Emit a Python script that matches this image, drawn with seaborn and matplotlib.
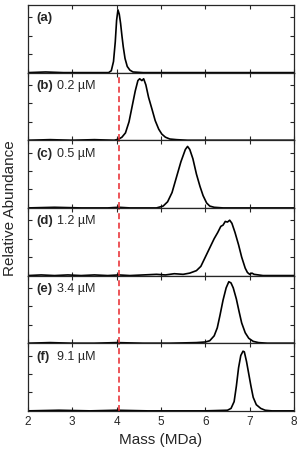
import pandas as pd
import matplotlib
matplotlib.use('Agg')
import matplotlib.pyplot as plt
import seaborn as sns

# values (mass in MDa, relative abundance)
mass_a = [2.0, 2.4, 2.8, 3.2, 3.6, 3.82, 3.88, 3.93, 3.97, 4.00, 4.03, 4.06, 4.09, 4.12, 4.15, 4.19, 4.24, 4.30, 4.37, 4.6, 5.0, 6.0, 7.0, 8.0]
abun_a = [0.0, 0.01, 0.0, 0.0, 0.0, 0.0, 0.03, 0.18, 0.5, 0.85, 1.02, 0.95, 0.8, 0.6, 0.42, 0.23, 0.1, 0.04, 0.01, 0.0, 0.0, 0.0, 0.0, 0.0]

mass_b = [2.0, 2.5, 3.0, 3.5, 3.95, 4.05, 4.12, 4.2, 4.28, 4.35, 4.42, 4.48, 4.52, 4.57, 4.61, 4.66, 4.72, 4.8, 4.87, 4.95, 5.02, 5.1, 5.2, 5.35, 5.6, 6.5, 8.0]
abun_b = [0.0, 0.01, 0.0, 0.01, 0.0, 0.02, 0.05, 0.12, 0.3, 0.55, 0.8, 0.97, 1.0, 0.97, 1.0, 0.9, 0.7, 0.5, 0.32, 0.18, 0.1, 0.05, 0.02, 0.01, 0.0, 0.0, 0.0]

mass_c = [2.0, 2.6, 3.2, 3.8, 4.05, 4.3, 4.9, 5.05, 5.15, 5.25, 5.35, 5.45, 5.55, 5.6, 5.65, 5.72, 5.8, 5.88, 5.95, 6.03, 6.1, 6.2, 6.4, 7.0, 8.0]
abun_c = [0.0, 0.01, 0.0, 0.0, 0.01, 0.0, 0.0, 0.03, 0.1, 0.25, 0.5, 0.75, 0.95, 1.0, 0.95, 0.8, 0.55, 0.35, 0.2, 0.08, 0.03, 0.01, 0.0, 0.0, 0.0]

mass_d = [2.0, 2.3, 2.6, 2.9, 3.2, 3.5, 3.8, 4.05, 4.3, 4.6, 4.9, 5.1, 5.3, 5.5, 5.65, 5.8, 5.9, 6.0, 6.1, 6.2, 6.28, 6.35, 6.4, 6.45, 6.5, 6.55, 6.6, 6.67, 6.75, 6.82, 6.9, 6.95, 7.0, 7.05, 7.1, 7.2, 7.3, 8.0]
abun_d = [0.0, 0.01, 0.0, 0.01, 0.0, 0.01, 0.0, 0.01, 0.0, 0.01, 0.02, 0.01, 0.03, 0.02, 0.04, 0.08, 0.15, 0.3, 0.45, 0.6, 0.7, 0.8, 0.82, 0.88, 0.87, 0.9, 0.85, 0.7, 0.5, 0.3, 0.12, 0.05, 0.02, 0.04, 0.02, 0.01, 0.0, 0.0]

mass_e = [2.0, 2.5, 3.0, 3.5, 4.0, 4.6, 5.2, 5.8, 6.0, 6.1, 6.2, 6.27, 6.33, 6.4, 6.47, 6.53, 6.58, 6.63, 6.7, 6.76, 6.82, 6.9, 6.98, 7.08, 7.2, 7.4, 8.0]
abun_e = [0.0, 0.01, 0.0, 0.0, 0.01, 0.0, 0.0, 0.01, 0.02, 0.04, 0.12, 0.25, 0.45, 0.7, 0.9, 1.0, 0.98, 0.9, 0.72, 0.52, 0.33, 0.17, 0.08, 0.03, 0.01, 0.0, 0.0]

mass_f = [2.0, 2.7, 3.4, 4.0, 4.7, 5.4, 6.0, 6.5, 6.58, 6.65, 6.7, 6.75, 6.8, 6.85, 6.88, 6.93, 6.98, 7.03, 7.08, 7.15, 7.25, 7.35, 7.5, 8.0]
abun_f = [0.0, 0.01, 0.0, 0.01, 0.0, 0.0, 0.0, 0.01, 0.04, 0.15, 0.4, 0.7, 0.9, 0.97, 0.96, 0.8, 0.6, 0.4, 0.22, 0.1, 0.04, 0.01, 0.0, 0.0]

panel_tags = ['(a)', '(b)', '(c)', '(d)', '(e)', '(f)']
concentrations = ['', '0.2 µM', '0.5 µM', '1.2 µM', '3.4 µM', '9.1 µM']
reference_mass = 4.06

series = [(mass_a, abun_a), (mass_b, abun_b), (mass_c, abun_c),
          (mass_d, abun_d), (mass_e, abun_e), (mass_f, abun_f)]

sns.set_style('ticks')
plt.rcParams['font.family'] = ['Liberation Sans', 'DejaVu Sans']

fig, axes = plt.subplots(6, 1, figsize=(3.0, 4.51), dpi=100, sharex=True)
fig.subplots_adjust(left=0.093, right=0.98, bottom=0.089, top=0.989, hspace=0)

for i, ax in enumerate(axes):
    df = pd.DataFrame({'mass': series[i][0], 'abundance': series[i][1]})
    sns.lineplot(data=df, x='mass', y='abundance', ax=ax, color='black', lw=1.2)
    if i > 0:
        ax.axvline(reference_mass, color='#e8262b', lw=1.1, ls=(0, (3.9, 2.3)))
    ax.set_xlim(2, 8)
    ax.set_ylim(0, 1.1)
    ax.set_yticks([0.3, 0.6, 0.9])
    ax.set_xticks(range(2, 9))
    ax.tick_params(direction='in', top=True, right=True, length=3, width=0.8,
                   labelleft=False, labelsize=8.5, pad=4)
    for s in ax.spines.values():
        s.set_linewidth(0.9)
    ax.set_ylabel('')
    ax.set_xlabel('')
    ax.text(0.031, 0.8, panel_tags[i], transform=ax.transAxes, fontsize=9.5,
            fontweight='bold', va='center', ha='left')
    ax.text(0.108, 0.8, concentrations[i], transform=ax.transAxes, fontsize=9,
            va='center', ha='left')

axes[-1].set_xlabel('Mass (MDa)', fontsize=11, labelpad=3)
fig.text(0.035, 0.539, 'Relative Abundance', rotation=90, fontsize=11,
         va='center', ha='center')

fig.savefig('out.png', dpi=100)
